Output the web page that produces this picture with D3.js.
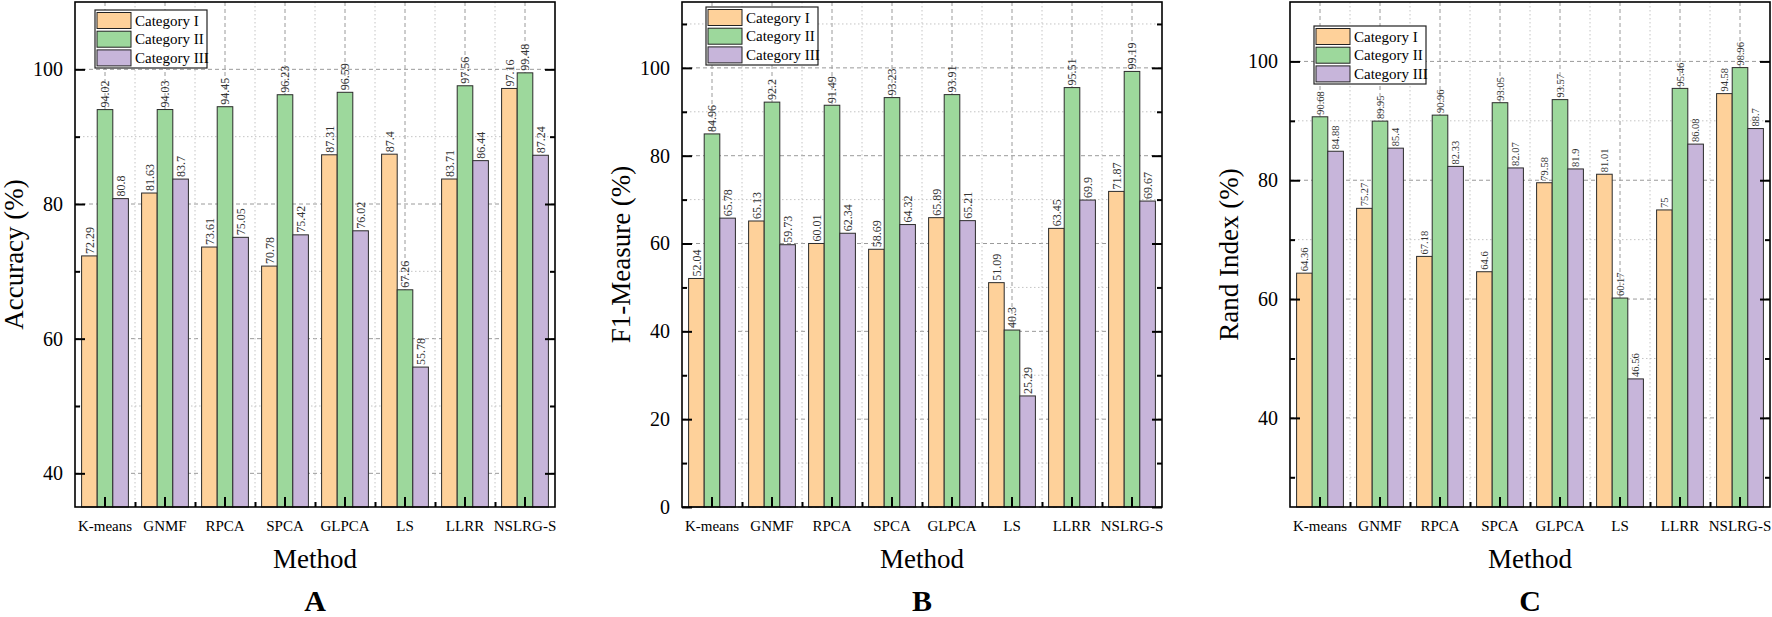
<!DOCTYPE html>
<html>
<head>
<meta charset="utf-8">
<script src="https://cdn.jsdelivr.net/npm/d3@7/dist/d3.min.js"></script>
<style>
    body { margin: 0; background: #fff; }
    text { font-family: "Liberation Serif", "Times New Roman", serif; }
    .grid-major { stroke: #9a9a9a; stroke-width: 1; stroke-dasharray: 4,3; }
    .grid-minor { stroke: #c4c4c4; stroke-width: 1; stroke-dasharray: 1.5,2.5; }
    .bar { stroke: #2b2b2b; stroke-width: 1; }
    .value-label { fill: #333; }
</style>
</head>
<body>
<svg id="chart" width="1772" height="617"></svg>
<script>
// methods on the x axis (shared by all panels)
const methods = ["K-means", "GNMF", "RPCA", "SPCA", "GLPCA", "LS", "LLRR", "NSLRG-S"];
const categories = ["Category I", "Category II", "Category III"];
const colors = ["#fed19a", "#9dd89c", "#c7b5da"];

// panel A - accuracy
const accCat1 = [72.29, 81.63, 73.61, 70.78, 87.31, 87.4, 83.71, 97.16];
const accCat2 = [94.02, 94.03, 94.45, 96.23, 96.59, 67.26, 97.56, 99.48];
const accCat3 = [80.8, 83.7, 75.05, 75.42, 76.02, 55.78, 86.44, 87.24];
const accMajor = [40, 60, 80, 100];
const accMinor = [50, 70, 90];

// panel B - F1 measure
const f1Cat1 = [52.04, 65.13, 60.01, 58.69, 65.89, 51.09, 63.45, 71.87];
const f1Cat2 = [84.96, 92.2, 91.49, 93.23, 93.91, 40.3, 95.51, 99.19];
const f1Cat3 = [65.78, 59.73, 62.34, 64.32, 65.21, 25.29, 69.9, 69.67];
const f1Major = [0, 20, 40, 60, 80, 100];
const f1Minor = [10, 30, 50, 70, 90, 110];

// panel C - rand index
const randCat1 = [64.36, 75.27, 67.18, 64.6, 79.58, 81.01, 75, 94.58];
const randCat2 = [90.68, 89.95, 90.96, 93.05, 93.57, 60.17, 95.46, 98.96];
const randCat3 = [84.88, 85.4, 82.33, 82.07, 81.9, 46.56, 86.08, 88.7];
const randMajor = [40, 60, 80, 100];
const randMinor = [30, 50, 70, 90];

const panels = [
    { left: 75, title: "Accuracy (%)", letter: "A", domain: [35, 110], series: [accCat1, accCat2, accCat3],
      major: accMajor, minor: accMinor, legend: [20, 8], labelSize: 12 },
    { left: 682, title: "F1-Measure (%)", letter: "B", domain: [0, 115], series: [f1Cat1, f1Cat2, f1Cat3],
      major: f1Major, minor: f1Minor, legend: [24, 5], labelSize: 12 },
    { left: 1290, title: "Rand Index (%)", letter: "C", domain: [25, 110], series: [randCat1, randCat2, randCat3],
      major: randMajor, minor: randMinor, legend: [24, 24], labelSize: 10.5 }
];

const plotTop = 2;
const width = 480;
const height = 505;

const svg = d3.select("#chart");

function drawPanel(p) {
    const g = svg.append("g").attr("transform", `translate(${p.left},${plotTop})`);

    const x = d3.scaleBand().domain(methods).range([0, width]).padding(0);
    const xEdge = d3.scaleLinear().domain([0, methods.length]).range([0, width]);
    const xInner = d3.scaleBand().domain(d3.range(categories.length))
        .range([x.bandwidth() * 0.11, x.bandwidth() * 0.89]);
    const y = d3.scaleLinear().domain(p.domain).range([height, 0]);

    // grid: horizontal
    g.append("g").selectAll("line").data(p.minor).join("line")
        .attr("class", "grid-minor")
        .attr("x1", 0).attr("x2", width)
        .attr("y1", d => y(d)).attr("y2", d => y(d));
    g.append("g").selectAll("line").data(p.major).join("line")
        .attr("class", "grid-major")
        .attr("x1", 0).attr("x2", width)
        .attr("y1", d => y(d)).attr("y2", d => y(d));

    // grid: vertical (centres dashed, boundaries dotted)
    g.append("g").selectAll("line").data(d3.range(1, methods.length)).join("line")
        .attr("class", "grid-minor")
        .attr("x1", d => xEdge(d)).attr("x2", d => xEdge(d))
        .attr("y1", 0).attr("y2", height);
    g.append("g").selectAll("line").data(methods).join("line")
        .attr("class", "grid-major")
        .attr("x1", d => x(d) + x.bandwidth() / 2).attr("x2", d => x(d) + x.bandwidth() / 2)
        .attr("y1", 0).attr("y2", height);

    // bars
    p.series.forEach((vals, si) => {
        const rows = methods.map((m, i) => ({ m, v: vals[i] }));
        g.append("g").selectAll("rect").data(rows).join("rect")
            .attr("class", "bar")
            .attr("fill", colors[si])
            .attr("x", d => x(d.m) + xInner(si))
            .attr("width", xInner.bandwidth())
            .attr("y", d => y(d.v))
            .attr("height", d => height - y(d.v));

        g.append("g").selectAll("text").data(rows).join("text")
            .attr("class", "value-label")
            .attr("font-size", p.labelSize)
            .attr("transform", d => {
                const cx = x(d.m) + xInner(si) + xInner.bandwidth() / 2;
                return `translate(${cx},${y(d.v) - 2}) rotate(-90)`;
            })
            .attr("dy", "0.35em")
            .text(d => d.v);
    });

    // axes
    const yLeft = g.append("g")
        .call(d3.axisLeft(y).tickValues(p.major).tickSize(-10).tickSizeOuter(0).tickPadding(12));
    yLeft.selectAll("text").attr("font-size", 20).attr("fill", "#000")
        .style("font-family", "'Liberation Serif', serif");
    g.append("g")
        .call(d3.axisLeft(y).tickValues(p.minor).tickSize(-5).tickSizeOuter(0).tickFormat(""));

    g.append("g").attr("transform", `translate(${width},0)`)
        .call(d3.axisRight(y).tickValues(p.major).tickSize(-10).tickSizeOuter(0).tickFormat(""));
    g.append("g").attr("transform", `translate(${width},0)`)
        .call(d3.axisRight(y).tickValues(p.minor).tickSize(-5).tickSizeOuter(0).tickFormat(""));

    const xAxis = g.append("g").attr("transform", `translate(0,${height})`)
        .call(d3.axisBottom(x).tickSize(-10).tickSizeOuter(0).tickPadding(13));
    xAxis.selectAll("text").attr("font-size", 15).attr("fill", "#000")
        .style("font-family", "'Liberation Serif', serif");
    g.append("g").attr("transform", `translate(0,${height})`)
        .call(d3.axisBottom(xEdge).tickValues(d3.range(1, methods.length)).tickSize(-5)
            .tickSizeOuter(0).tickFormat(""));

    g.selectAll(".tick line").attr("stroke", "#000").attr("stroke-width", 2);
    g.selectAll(".domain").remove();

    // frame
    g.append("rect")
        .attr("width", width).attr("height", height)
        .attr("fill", "none").attr("stroke", "#000").attr("stroke-width", 1.6);

    // titles
    g.append("text")
        .attr("transform", `translate(${-61},${height / 2}) rotate(-90)`)
        .attr("text-anchor", "middle").attr("dy", "0.35em")
        .attr("font-size", 27)
        .text(p.title);

    g.append("text")
        .attr("x", width / 2).attr("y", 566)
        .attr("text-anchor", "middle")
        .attr("font-size", 27)
        .text("Method");

    g.append("text")
        .attr("x", width / 2).attr("y", 609)
        .attr("text-anchor", "middle")
        .attr("font-size", 30)
        .attr("font-weight", "bold")
        .text(p.letter);

    // legend
    const lg = g.append("g").attr("transform", `translate(${p.legend[0]},${p.legend[1]})`);
    lg.append("rect")
        .attr("width", 112).attr("height", 58)
        .attr("fill", "#fff").attr("stroke", "#222").attr("stroke-width", 1.2);
    const items = lg.selectAll("g.item").data(categories).join("g")
        .attr("class", "item")
        .attr("transform", (d, i) => `translate(2,${2.5 + i * 18.7})`);
    items.append("rect")
        .attr("width", 34).attr("height", 16)
        .attr("fill", (d, i) => colors[i])
        .attr("stroke", "#222").attr("stroke-width", 1);
    items.append("text")
        .attr("x", 38).attr("y", 8).attr("dy", "0.35em")
        .attr("font-size", 15)
        .text(d => d);
}

panels.forEach(drawPanel);
</script>
</body>
</html>
